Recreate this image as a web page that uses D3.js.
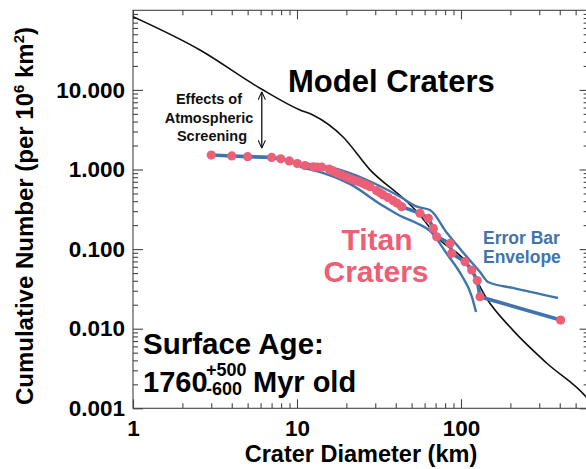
<!DOCTYPE html>
<html>
<head>
<meta charset="utf-8">
<script src="https://cdn.jsdelivr.net/npm/d3@7"></script>
<style>
  body { margin: 0; background: #fff; }
  svg { display: block; font-family: "Liberation Sans", Arial, Helvetica, sans-serif; font-weight: bold; }
</style>
</head>
<body>
<div id="chart"></div>
<script>
// Titan craters (cumulative number per 10^6 km^2 vs diameter in km)
const titanD = [3.0, 4.0, 5.0, 7.0, 7.96, 8.98, 10.04, 11.19, 12.58, 13.3, 14.15, 15.74, 16.6, 17.6, 18.8, 20.1, 21.4, 22.6, 23.9, 25.2,
    26.5, 27.9, 30.6, 32.1, 33.6, 35.9, 38.6, 40.7, 43.5, 56.2, 63.2, 67.8, 71.1, 85.7, 87.8, 105.8, 116.2, 125.6, 130.6, 405];
const titanN = [1.52, 1.48, 1.45, 1.42, 1.36, 1.28, 1.19, 1.12, 1.08, 1.075, 1.07, 1.01, 0.96, 0.896, 0.85, 0.80, 0.76, 0.723, 0.70, 0.671,
    0.64, 0.608, 0.542, 0.51, 0.479, 0.445, 0.406, 0.379, 0.341, 0.282, 0.244, 0.182, 0.143, 0.118, 0.0886, 0.0695, 0.0546, 0.0403, 0.0252, 0.01285];

// error bar envelope
const upperD = [10.43, 16.58, 26.7, 42.5, 53.9, 64.7, 82.2, 108.8, 130.6, 146, 207, 390];
const upperN = [1.197, 1.044, 0.738, 0.455, 0.341, 0.310, 0.159, 0.0796, 0.0515, 0.0386, 0.0325, 0.0243];
const lowerD = [10.43, 21.0, 33.4, 42.5, 53.9, 64.7, 82.2, 101.4, 116.7, 123.5];
const lowerN = [1.08, 0.66, 0.35, 0.262, 0.211, 0.169, 0.0867, 0.0459, 0.025, 0.0162];

// model craters
const modelD = [1, 2.56, 5.95, 10.43, 12.5, 19.1, 27.9, 45.6, 53.9, 74.5, 108.8, 144, 207, 334, 578, 600];
const modelN = [83.0, 31.7, 10.5, 5.59, 4.84, 2.56, 0.99, 0.414, 0.295, 0.130, 0.0669, 0.0236, 0.0096, 0.00368, 0.0014, 0.00128];

// atmospheric screening arrow
const arrowD = 6.1;
const arrowN = [9.5, 1.85];

const xTicks = [1, 10, 100];
const xTickLabels = ["1", "10", "100"];
const yTicks = [0.001, 0.01, 0.1, 1, 10];
const yTickLabels = ["0.001", "0.010", "0.100", "1.000", "10.000"];

const width = 586, height = 469;
const plotLeft = 133, plotTop = 10.3, plotBottom = 408.3;
const decadeX = 164;

const pink = "#ec5f77";
const blue = "#3f74ad";

const svg = d3.select("#chart").append("svg")
    .attr("width", width)
    .attr("height", height);

const x = d3.scaleLog().domain([1, 600]).range([plotLeft, plotLeft + decadeX * Math.log10(600)]);
const y = d3.scaleLog().domain([0.001, 100]).range([plotBottom, plotTop]);
const plotRight = x(600);

const defs = svg.append("defs");
defs.append("clipPath").attr("id", "plot")
    .append("rect")
    .attr("x", plotLeft).attr("y", plotTop)
    .attr("width", plotRight - plotLeft).attr("height", plotBottom - plotTop);

defs.append("marker")
    .attr("id", "head")
    .attr("viewBox", "0 0 10 10")
    .attr("refX", 10).attr("refY", 5)
    .attr("markerWidth", 8).attr("markerHeight", 10)
    .attr("markerUnits", "userSpaceOnUse")
    .attr("orient", "auto-start-reverse")
    .append("path")
    .attr("d", "M0,0.5 L10,5 L0,9.5")
    .attr("fill", "none")
    .attr("stroke", "#111")
    .attr("stroke-width", 1.3);

// minor ticks
let xMinor = [], yMinor = [];
[1, 10, 100].forEach(b => { for (let i = 2; i <= 9; i++) if (b * i <= 600) xMinor.push(b * i); });
[0.001, 0.01, 0.1, 1, 10].forEach(b => { for (let i = 2; i <= 9; i++) yMinor.push(b * i); });

function styleAxis(g) {
    g.select(".domain").remove();
    g.selectAll(".tick line").attr("stroke", "#444").attr("stroke-width", 1.1);
    g.attr("font-family", null).attr("font-size", 22.5).attr("font-weight", "bold");
    g.selectAll(".tick text").attr("fill", "#000");
}

// bottom
svg.append("g").attr("transform", `translate(0,${plotBottom})`)
    .call(d3.axisBottom(x).tickValues(xTicks).tickSize(-9).tickPadding(11.5)
        .tickFormat((d, i) => xTickLabels[i]))
    .call(styleAxis);
svg.append("g").attr("transform", `translate(0,${plotBottom})`)
    .call(d3.axisBottom(x).tickValues(xMinor).tickSize(-5).tickFormat(""))
    .call(styleAxis);
// top
svg.append("g").attr("transform", `translate(0,${plotTop})`)
    .call(d3.axisTop(x).tickValues(xTicks).tickSize(-9).tickFormat(""))
    .call(styleAxis);
svg.append("g").attr("transform", `translate(0,${plotTop})`)
    .call(d3.axisTop(x).tickValues(xMinor).tickSize(-5).tickFormat(""))
    .call(styleAxis);
// left
svg.append("g").attr("transform", `translate(${plotLeft},0)`)
    .call(d3.axisLeft(y).tickValues(yTicks).tickSize(-10).tickPadding(8)
        .tickFormat((d, i) => yTickLabels[i]))
    .call(styleAxis);
svg.append("g").attr("transform", `translate(${plotLeft},0)`)
    .call(d3.axisLeft(y).tickValues(yMinor).tickSize(-5).tickFormat(""))
    .call(styleAxis);
// right
svg.append("g").attr("transform", `translate(${plotRight},0)`)
    .call(d3.axisRight(y).tickValues(yTicks).tickSize(-9).tickFormat(""))
    .call(styleAxis);
svg.append("g").attr("transform", `translate(${plotRight},0)`)
    .call(d3.axisRight(y).tickValues(yMinor).tickSize(-5).tickFormat(""))
    .call(styleAxis);

svg.append("rect")
    .attr("x", plotLeft).attr("y", plotTop)
    .attr("width", plotRight - plotLeft).attr("height", plotBottom - plotTop)
    .attr("fill", "none").attr("stroke", "#444").attr("stroke-width", 1.1);

// axis titles
svg.append("text")
    .attr("x", 361).attr("y", 462)
    .attr("text-anchor", "middle")
    .attr("font-size", 23.5)
    .text("Crater Diameter (km)");

const yTitle = svg.append("text")
    .attr("transform", "translate(33,216) rotate(-90)")
    .attr("text-anchor", "middle")
    .attr("font-size", 24);
yTitle.append("tspan").text("Cumulative Number (per 10");
yTitle.append("tspan").attr("font-size", 15).attr("dy", -9).text("6");
yTitle.append("tspan").attr("dy", 9).text(" km");
yTitle.append("tspan").attr("font-size", 15).attr("dy", -9).text("2");
yTitle.append("tspan").attr("dy", 9).text(")");

// data layers
const plot = svg.append("g").attr("clip-path", "url(#plot)");

const line = d3.line().x(d => x(d[0])).y(d => y(d[1])).curve(d3.curveMonotoneX);

plot.append("path")
    .datum(modelD.map((d, i) => [d, modelN[i]]))
    .attr("d", line)
    .attr("fill", "none").attr("stroke", "#111").attr("stroke-width", 1.6);

plot.append("path")
    .datum(upperD.map((d, i) => [d, upperN[i]]))
    .attr("d", line)
    .attr("fill", "none").attr("stroke", blue).attr("stroke-width", 2.4);

plot.append("path")
    .datum(lowerD.map((d, i) => [d, lowerN[i]]))
    .attr("d", line)
    .attr("fill", "none").attr("stroke", blue).attr("stroke-width", 2.4);

plot.append("path")
    .datum(titanD.map((d, i) => [d, titanN[i]]))
    .attr("d", d3.line().x(d => x(d[0])).y(d => y(d[1])))
    .attr("fill", "none").attr("stroke", blue).attr("stroke-width", 3.6);

plot.selectAll("circle.titan")
    .data(titanD.map((d, i) => [d, titanN[i]]))
    .join("circle")
    .attr("class", "titan")
    .attr("cx", d => x(d[0]))
    .attr("cy", d => y(d[1]))
    .attr("r", 4.6)
    .attr("fill", pink);

// arrow
svg.append("line")
    .attr("x1", x(arrowD)).attr("x2", x(arrowD))
    .attr("y1", y(arrowN[0])).attr("y2", y(arrowN[1]))
    .attr("stroke", "#111").attr("stroke-width", 1.3)
    .attr("marker-start", "url(#head)")
    .attr("marker-end", "url(#head)");

// annotations
const note = svg.append("text").attr("font-size", 14.5).attr("text-anchor", "middle").attr("fill", "#111");
note.append("tspan").attr("x", 209).attr("y", 104).text("Effects of");
note.append("tspan").attr("x", 209).attr("y", 122.5).text("Atmospheric");
note.append("tspan").attr("x", 212).attr("y", 140.5).text("Screening");

svg.append("text")
    .attr("x", 288).attr("y", 92)
    .attr("font-size", 31)
    .attr("fill", "#000")
    .text("Model Craters");

const titan = svg.append("text").attr("font-size", 30).attr("text-anchor", "middle").attr("fill", pink);
titan.append("tspan").attr("x", 377).attr("y", 250).text("Titan");
titan.append("tspan").attr("x", 376).attr("y", 282).text("Craters");

const env = svg.append("text").attr("font-size", 17.5).attr("fill", blue);
env.append("tspan").attr("x", 483).attr("y", 244).text("Error Bar");
env.append("tspan").attr("x", 483).attr("y", 263).text("Envelope");

svg.append("text")
    .attr("x", 143).attr("y", 354)
    .attr("font-size", 29.5)
    .attr("fill", "#000")
    .text("Surface Age:");

const age = svg.append("g").attr("fill", "#000");
age.append("text").attr("x", 143).attr("y", 392).attr("font-size", 29).text("1760");
age.append("text").attr("x", 206).attr("y", 376).attr("font-size", 18).text("+500");
age.append("text").attr("x", 206).attr("y", 395).attr("font-size", 18).text("-600");
age.append("text").attr("x", 253).attr("y", 392).attr("font-size", 29).text("Myr old");
</script>
</body>
</html>
